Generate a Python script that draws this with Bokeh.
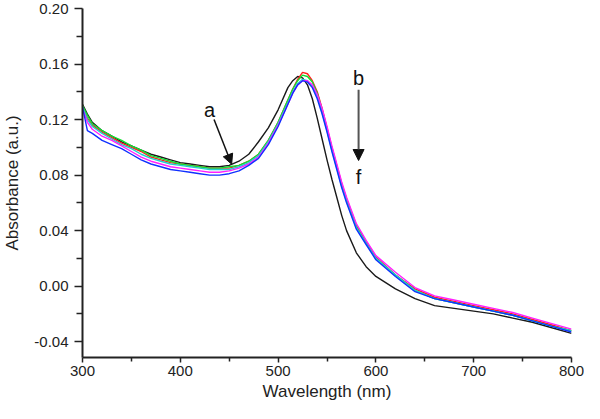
from bokeh.plotting import figure
from bokeh.models import Range1d, FixedTicker, Arrow, NormalHead, Label
from bokeh.embed import file_html
from bokeh.resources import INLINE

# ---- data ----
wavelength = [300, 305, 310, 320, 330, 340, 350, 360, 370, 380, 390, 400, 410, 420, 430, 440,
              450, 460, 470, 480, 490, 500, 510, 515, 520, 525, 530, 535, 540, 545, 550, 555,
              560, 565, 570, 580, 590, 600, 620, 640, 660, 680, 700, 720, 740, 760, 780, 800]

abs_a = [0.131, 0.124, 0.118, 0.112, 0.108, 0.104, 0.101, 0.098, 0.095, 0.093, 0.091, 0.089,
         0.088, 0.087, 0.086, 0.086, 0.087, 0.090, 0.095, 0.104, 0.114, 0.127, 0.143, 0.148,
         0.151, 0.150, 0.145, 0.135, 0.121, 0.106, 0.091, 0.077, 0.064, 0.051, 0.040, 0.024,
         0.014, 0.007, -0.002, -0.009, -0.014, -0.016, -0.018, -0.020, -0.023, -0.026, -0.030, -0.034]
abs_b = [0.130, 0.121, 0.116, 0.111, 0.107, 0.103, 0.100, 0.097, 0.093, 0.091, 0.089, 0.088,
         0.087, 0.086, 0.085, 0.085, 0.085, 0.087, 0.090, 0.095, 0.105, 0.118, 0.134, 0.142,
         0.149, 0.154, 0.153, 0.148, 0.140, 0.128, 0.114, 0.100, 0.087, 0.074, 0.063, 0.044,
         0.032, 0.021, 0.008, -0.002, -0.008, -0.011, -0.014, -0.017, -0.020, -0.024, -0.028, -0.032]
abs_c = [0.130, 0.123, 0.117, 0.112, 0.108, 0.105, 0.101, 0.098, 0.094, 0.092, 0.090, 0.088,
         0.087, 0.086, 0.085, 0.085, 0.086, 0.087, 0.090, 0.095, 0.105, 0.118, 0.134, 0.142,
         0.148, 0.152, 0.151, 0.147, 0.139, 0.127, 0.113, 0.099, 0.086, 0.073, 0.062, 0.043,
         0.031, 0.020, 0.008, -0.003, -0.009, -0.012, -0.015, -0.018, -0.021, -0.025, -0.029, -0.032]
abs_d = [0.129, 0.112, 0.110, 0.105, 0.102, 0.099, 0.095, 0.091, 0.088, 0.086, 0.084, 0.083,
         0.082, 0.081, 0.080, 0.080, 0.081, 0.083, 0.087, 0.092, 0.102, 0.115, 0.131, 0.139,
         0.145, 0.148, 0.147, 0.143, 0.135, 0.124, 0.111, 0.097, 0.084, 0.071, 0.060, 0.041,
         0.030, 0.019, 0.007, -0.004, -0.009, -0.012, -0.015, -0.018, -0.021, -0.025, -0.029, -0.033]
abs_e = [0.129, 0.120, 0.115, 0.110, 0.106, 0.102, 0.099, 0.095, 0.092, 0.090, 0.088, 0.087,
         0.086, 0.085, 0.084, 0.084, 0.084, 0.086, 0.089, 0.094, 0.104, 0.117, 0.132, 0.140,
         0.146, 0.149, 0.148, 0.144, 0.137, 0.125, 0.112, 0.098, 0.085, 0.072, 0.061, 0.042,
         0.031, 0.020, 0.008, -0.003, -0.009, -0.012, -0.015, -0.018, -0.021, -0.025, -0.029, -0.032]
abs_f = [0.128, 0.118, 0.113, 0.108, 0.105, 0.101, 0.097, 0.093, 0.090, 0.088, 0.086, 0.085,
         0.084, 0.083, 0.082, 0.082, 0.083, 0.085, 0.088, 0.093, 0.103, 0.116, 0.131, 0.139,
         0.145, 0.148, 0.148, 0.145, 0.138, 0.128, 0.115, 0.101, 0.088, 0.075, 0.064, 0.045,
         0.033, 0.022, 0.010, -0.001, -0.007, -0.010, -0.013, -0.016, -0.019, -0.023, -0.027, -0.031]

series = [abs_a, abs_b, abs_c, abs_d, abs_e, abs_f]
colors = ["#1a1a1a", "#ff2020", "#10e030", "#1030ff", "#20d0d0", "#ff20ff"]
draw_order = [0, 1, 2, 4, 5, 3]

x_ticks = [300, 400, 500, 600, 700, 800]
x_minor = [350, 450, 550, 650, 750]
y_ticks = [-0.04, 0.00, 0.04, 0.08, 0.12, 0.16, 0.20]
y_minor = [-0.02, 0.02, 0.06, 0.10, 0.14, 0.18]
y_tick_labels = {-0.04: "-0.04", 0.0: "0.00", 0.04: "0.04", 0.08: "0.08",
                 0.12: "0.12", 0.16: "0.16", 0.2: "0.20"}

FONT = "Liberation Sans"
TXT = "#222222"

p = figure(width=584, height=403, output_backend="svg", toolbar_location=None,
           x_range=Range1d(300, 800), y_range=Range1d(-0.0514, 0.20),
           min_border_left=78, min_border_right=13, min_border_top=8, min_border_bottom=5)
p.outline_line_color = None
p.grid.visible = False
p.background_fill_color = "white"

for i in draw_order:
    p.line(wavelength, series[i], line_color=colors[i], line_width=1.4)

# axes styling
p.xaxis.ticker = FixedTicker(ticks=x_ticks, minor_ticks=x_minor)
p.yaxis.ticker = FixedTicker(ticks=y_ticks, minor_ticks=y_minor)
p.yaxis.major_label_overrides = y_tick_labels
for ax in (p.xaxis[0], p.yaxis[0]):
    ax.axis_line_width = 2
    ax.axis_line_color = "#222222"
    ax.major_tick_line_color = "#222222"
    ax.minor_tick_line_color = "#222222"
    ax.major_tick_line_width = 1.5
    ax.minor_tick_line_width = 1.5
    ax.major_label_text_font = FONT
    ax.major_label_text_font_size = "15px"
    ax.major_label_text_color = TXT
    ax.axis_label_text_font = FONT
    ax.axis_label_text_font_size = "17px"
    ax.axis_label_text_font_style = "normal"
    ax.axis_label_text_color = TXT

p.xaxis.major_tick_out = 5
p.xaxis.major_tick_in = 0
p.xaxis.minor_tick_out = 4
p.xaxis.minor_tick_in = 0
p.yaxis.major_tick_out = 8
p.yaxis.major_tick_in = 0
p.yaxis.minor_tick_out = 6
p.yaxis.minor_tick_in = 0
p.xaxis.major_label_standoff = 3
p.yaxis.major_label_standoff = 6
p.xaxis.axis_label = "Wavelength (nm)"
p.yaxis.axis_label = "Absorbance (a.u.)"
p.xaxis.axis_label_standoff = 3
p.yaxis.axis_label_standoff = 9

# annotations
p.add_layout(Label(x=430, y=0.127, text="a", text_font=FONT, text_font_size="20px",
                   text_color="#111111", text_align="center", text_baseline="middle"))
p.add_layout(Arrow(x_start=434.5, y_start=0.1200, x_end=452.5, y_end=0.0878,
                   line_color="#111111", line_width=1.5,
                   end=NormalHead(size=10, fill_color="#111111", line_color="#111111")))
p.add_layout(Label(x=582.3, y=0.150, text="b", text_font=FONT, text_font_size="20px",
                   text_color="#111111", text_align="center", text_baseline="middle"))
p.add_layout(Arrow(x_start=582.3, y_start=0.1415, x_end=582.3, y_end=0.0905,
                   line_color="#555555", line_width=2,
                   end=NormalHead(size=11, fill_color="#111111", line_color="#111111")))
p.add_layout(Label(x=582.3, y=0.0786, text="f", text_font=FONT, text_font_size="20px",
                   text_color="#111111", text_align="center", text_baseline="middle"))

open("out.html", "w").write(file_html(p, INLINE))
